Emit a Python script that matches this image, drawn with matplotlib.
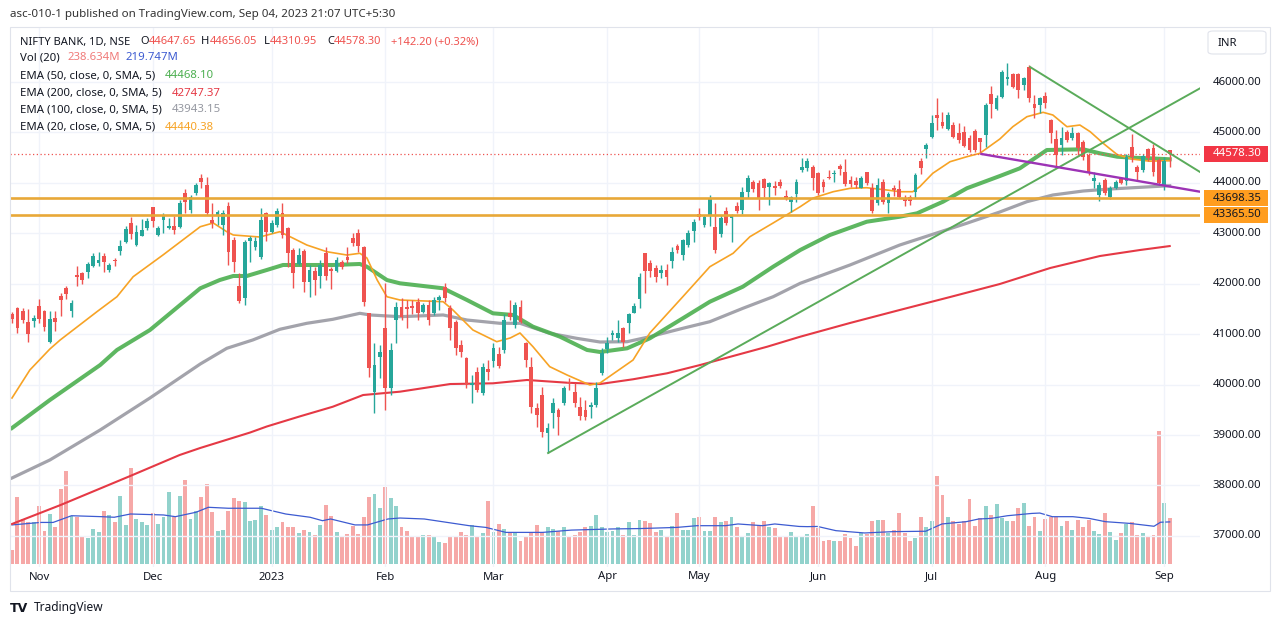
import numpy as np
import pandas as pd
import matplotlib
matplotlib.use("Agg")
import matplotlib.pyplot as plt
from matplotlib.patches import Rectangle, FancyBboxPatch
from matplotlib.transforms import blended_transform_factory

plt.rcParams['font.family'] = ['Noto Sans', 'DejaVu Sans']

# ---------------- data ----------------
holidays = ["2022-10-26", "2022-11-08", "2023-01-26", "2023-03-07", "2023-03-30",
            "2023-04-04", "2023-04-07", "2023-04-14", "2023-05-01", "2023-06-29", "2023-08-15"]

opens = [41401, 41526, 41466, 41236, 41268, 41559, 41466, 40851, 41327, 41763,
         41922, 41466, 42174, 42207, 42240, 42352, 42405, 42550, 42273, 42471,
         42656, 42834, 43211, 42769, 42953, 43100, 43516, 42967, 43264, 43100,
         43151, 43132, 43794, 43463, 43794, 44097, 43958, 43264, 43363, 43165,
         43542, 42868, 41956, 41712, 42854, 42735, 42537, 43397, 43032, 43165,
         43409, 43100, 42669, 42392, 42656, 42041, 42259, 42154, 42616, 42287,
         42259, 42438, 42525, 42913, 43000, 42723, 41414, 39860, 40542, 41117,
         39928, 41282, 41545, 41533, 41559, 41645, 41446, 41579, 41414, 41678,
         41930, 41513, 41248, 40786, 40522, 39993, 40257, 39828, 40304, 40476,
         40608, 40687, 41414, 41183, 41533, 40832, 40356, 39531, 39795, 39035,
         39444, 39497, 39630, 40059, 39860, 39563, 39497, 39551, 39596, 40224,
         40700, 40984, 40918, 41117, 41216, 41427, 41692, 42604, 42418, 42306,
         42220, 42273, 42457, 42749, 42570, 42769, 43052, 43383, 43165, 43344,
         43119, 42987, 43449, 43298, 43542, 43463, 43825, 44024, 43992, 44071,
         43925, 43938, 44024, 43740, 43627, 43780, 44256, 44289, 44321, 44190,
         44011, 44123, 44170, 44341, 44222, 44057, 44038, 43905, 44210, 43905,
         43595, 44024, 43595, 43905, 43879, 43681, 43727, 43826, 44434, 44672,
         44916, 45346, 45201, 45069, 45148, 44983, 45015, 44896, 45029, 44884,
         44950, 45756, 45465, 45709, 46060, 46153, 46153, 45941, 46304, 45558,
         45544, 45729, 45247, 44870, 44751, 45015, 44896, 44983, 44805, 44553,
         44038, 43760, 44057, 43726, 43892, 44103, 44038, 44718, 44321, 44256,
         44672, 44685, 44454, 43958, 44647.65]

highs = [41446, 41545, 41513, 41494, 41381, 41692, 41480, 41466, 41466, 41823,
         41956, 41678, 42352, 42240, 42438, 42616, 42636, 42604, 42406, 42517,
         42868, 43145, 43330, 43165, 43278, 43298, 43528, 43145, 43397, 43310,
         43344, 43661, 43873, 43760, 44004, 44176, 44123, 43595, 43463, 43463,
         43627, 42934, 42207, 42868, 42947, 42934, 43496, 43429, 43264, 43496,
         43595, 43132, 42703, 42703, 42683, 42372, 42338, 42471, 42723, 42338,
         42537, 42471, 42723, 43000, 43080, 42749, 41427, 40820, 40786, 42009,
         40820, 41645, 41712, 41678, 41678, 41712, 41612, 41678, 41732, 41777,
         42009, 41579, 41282, 40885, 40555, 40191, 40356, 40423, 40489, 40820,
         40753, 41401, 41678, 41645, 41678, 40851, 40555, 39630, 39960, 39233,
         39729, 39531, 39973, 40126, 40027, 39761, 39696, 39662, 40059, 40720,
         40951, 41083, 41282, 41149, 41414, 41612, 42220, 42616, 42471, 42372,
         42372, 42392, 42723, 42788, 42881, 43066, 43278, 43496, 43363, 43760,
         43595, 43363, 43528, 43383, 43627, 43925, 44157, 44057, 44057, 44091,
         44024, 44043, 44071, 43859, 43740, 44071, 44487, 44487, 44355, 44222,
         44077, 44256, 44256, 44368, 44474, 44143, 44123, 44143, 44222, 43992,
         44103, 44077, 43826, 43958, 44057, 43760, 43760, 44190, 44487, 44785,
         45346, 45677, 45412, 45412, 45213, 45181, 45134, 44949, 45069, 44884,
         45578, 45927, 45742, 46238, 46371, 46173, 46173, 46105, 46337, 45742,
         45709, 45808, 45267, 45052, 45114, 45052, 45114, 45015, 44850, 44586,
         44222, 44024, 44091, 43945, 44057, 44123, 44566, 44963, 44355, 44566,
         44685, 44765, 44487, 44520, 44656.05]

lows = [41217, 41030, 41217, 40851, 41149, 41217, 41069, 40831, 41069, 41361,
        41692, 41347, 41956, 41995, 42108, 42326, 42352, 42240, 42240, 42352,
        42570, 42802, 42882, 42749, 42947, 43066, 43132, 42947, 43013, 43080,
        42987, 43100, 43397, 43397, 43760, 43899, 43363, 43100, 43165, 42967,
        42372, 42240, 41613, 41579, 42438, 42669, 42485, 42854, 43000, 43132,
        42901, 42338, 41910, 42372, 41843, 41744, 41777, 41910, 42075, 41890,
        42240, 42287, 42405, 42749, 42636, 41559, 40157, 39444, 40126, 39497,
        39795, 40820, 41282, 41117, 41401, 41282, 41414, 41183, 41381, 41480,
        41645, 40885, 40588, 40542, 39927, 39630, 39860, 39795, 40092, 40356,
        40324, 40621, 41282, 41117, 41217, 40356, 39431, 39167, 38968, 38639,
        39134, 39002, 39596, 39894, 39563, 39299, 39299, 39333, 39563, 40191,
        40621, 40885, 40851, 40753, 41018, 41414, 41513, 41811, 42140, 42041,
        42108, 41975, 42306, 42604, 42471, 42735, 42834, 43264, 43119, 43145,
        42604, 42934, 43165, 42834, 43409, 43383, 43694, 43826, 43463, 43727,
        43562, 43760, 43893, 43661, 43429, 43627, 44222, 44236, 43859, 43760,
        43826, 44077, 44024, 44157, 43945, 43925, 43905, 43893, 43958, 43397,
        43562, 43575, 43397, 43747, 43694, 43548, 43562, 43707, 44169, 44487,
        44896, 45049, 45082, 45049, 44883, 44784, 44718, 44619, 44619, 44606,
        44718, 45280, 45445, 45677, 45940, 45875, 45677, 45842, 45610, 45280,
        45379, 45479, 44784, 44321, 44553, 44804, 44850, 44553, 44454, 44157,
        43892, 43641, 43760, 43681, 43872, 43972, 43958, 44420, 44038, 44222,
        44434, 44143, 43958, 43859, 44310.95]

closes = [41296, 41129, 41282, 40998, 41327, 41296, 41149, 41296, 41236, 41678,
          41791, 41625, 42140, 42075, 42392, 42550, 42471, 42438, 42372, 42451,
          42749, 43086, 42987, 43032, 43066, 43244, 43250, 43112, 43363, 43145,
          43066, 43595, 43627, 43726, 43958, 44018, 43409, 43211, 43429, 43409,
          42636, 42438, 41664, 42834, 42901, 42854, 43264, 43032, 43211, 43449,
          42967, 42616, 42207, 42570, 42041, 42273, 42075, 42372, 42154, 42259,
          42471, 42326, 42471, 42814, 42749, 41645, 40324, 40389, 40653, 39928,
          40687, 41545, 41347, 41494, 41513, 41414, 41579, 41282, 41678, 41732,
          41712, 41117, 40720, 40654, 39993, 40027, 39894, 40356, 40257, 40720,
          40370, 41282, 41347, 41579, 41248, 40489, 39563, 39398, 39068, 39134,
          39642, 39365, 39927, 40027, 39630, 39378, 39365, 39596, 39927, 40621,
          40832, 41030, 41030, 40851, 41401, 41559, 42140, 42259, 42259, 42140,
          42273, 42140, 42636, 42669, 42868, 43013, 43231, 43317, 43317, 43694,
          42669, 43298, 43199, 43344, 43449, 43825, 44091, 43873, 43694, 43893,
          43992, 43893, 43938, 43674, 43714, 44024, 44321, 44434, 44103, 43794,
          43925, 44103, 44190, 44276, 43972, 43972, 43958, 44103, 43992, 43443,
          43958, 43627, 43774, 43859, 43727, 43641, 43641, 44157, 44301, 44751,
          45181, 45292, 45134, 45346, 44916, 44850, 44737, 44652, 44652, 44805,
          45544, 45558, 45689, 46205, 46106, 45907, 45842, 46074, 45677, 45479,
          45677, 45578, 44983, 44553, 44884, 44850, 44983, 44685, 44519, 44190,
          44103, 43958, 43793, 43892, 44024, 43992, 44519, 44519, 44222, 44539,
          44487, 44222, 43992, 44436, 44578.30]

volumes_m = [73, 348, 235, 218, 218, 305, 174, 261, 191, 392,
             487, 252, 244, 143, 136, 183, 165, 278, 256, 218,
             357, 205, 499, 235, 221, 205, 266, 209, 244, 378,
             244, 353, 440, 235, 278, 348, 418, 273, 174, 179,
             278, 343, 331, 322, 226, 231, 305, 258, 179, 195,
             218, 191, 195, 162, 179, 169, 153, 205, 310, 252,
             169, 143, 157, 200, 158, 244, 348, 367, 291, 400,
             346, 305, 195, 171, 139, 143, 153, 151, 143, 117,
             110, 139, 144, 165, 153, 204, 143, 162, 327, 169,
             209, 183, 162, 162, 122, 143, 169, 205, 169, 195,
             183, 171, 191, 144, 151, 165, 195, 200, 258, 191,
             169, 174, 195, 153, 218, 153, 230,
             226, 212, 169, 179, 144, 197, 264, 179, 179, 238,
             244, 174, 174, 247, 221, 226, 247, 191, 143, 160,
             221, 204, 226, 191, 186, 144, 148, 169, 144, 148,
             157, 305, 186, 122, 125, 122, 122, 157, 134, 92,
             162, 157, 226, 231, 231, 162, 179, 264, 160, 122,
             137, 244, 191, 226, 458, 360, 244, 226, 209, 226,
             339, 197, 238, 305, 256, 313, 238, 226, 226, 291,
             320, 197, 247, 174, 235, 247, 247, 200, 226, 179,
             231, 195, 231, 174, 157, 264, 169, 127, 160, 209,
             221, 153, 162, 143, 153, 694, 318, 238.634]

vma_idx = [0, 5.3, 7.6, 11, 16.6, 18.9, 21.9, 28, 30.2, 34, 36.3, 40, 46.1, 50.6, 55.1, 57.4,
           58.9, 63.4, 65.7, 69.5, 71.7, 76.2, 84.5, 87.6, 91.3, 98.1, 103.4, 111, 116.1, 122.9,
           126.6, 131.9, 134.2, 138.7, 141, 145.5, 147, 148.9, 152.3, 157.6, 162.9, 168.9, 171.9,
           176.4, 178.7, 181, 184, 188.5, 190, 192.3, 196.1, 199.1, 202.1, 206.6, 211.1, 212.3, 214]
vma_val = [204, 217, 217, 252, 247, 244, 261, 256, 247, 270, 296, 291, 291, 261, 244, 226,
           235, 204, 204, 235, 240, 235, 200, 191, 165, 165, 177, 183, 185, 191,
           200, 200, 209, 200, 209, 196, 195, 196, 174, 162, 169, 171, 209,
           221, 235, 238, 252, 264, 266, 247, 247, 238, 221, 212, 197, 218, 219.747]

ema20_idx = [0, 3.3, 7, 8.9, 15.7, 19.4, 22.4, 27.9, 34.8, 37.2, 39.7, 40.9, 45.8, 49.5, 51.9,
             54.5, 58.2, 61.9, 64.3, 65.6, 67.5, 69.3, 71.7, 79.7, 81.5, 85.2, 89.6, 92.1, 93.9,
             96.3, 99.4, 102.6, 106.8, 108.7, 114.8, 117.9, 124, 129, 133.3, 136.4, 140.7, 145.7,
             148.1, 151.8, 154.9, 158, 161.7, 164.1, 166.5, 167.8, 170.2, 173.4, 176.5, 178.9,
             182.6, 185, 187.6, 190.6, 192.4, 195, 197.4, 199.3, 201.7, 204.3, 207.2, 210.3, 214]
ema20_val = [39735, 40290, 40706, 40885, 41446, 41743, 42140, 42570, 43131, 43205, 43032, 42967,
             42927, 43032, 42907, 42768, 42635, 42570, 42604, 42511, 42074, 41743, 41678, 41644,
             41480, 41083, 40851, 40925, 41024, 40752, 40356, 40191, 39993, 40032, 40488, 41024,
             41743, 42338, 42604, 42933, 43205, 43528, 43700, 43825, 43892, 43904, 43859, 43825,
             43825, 43924, 44190, 44420, 44519, 44586, 44870, 45114, 45312, 45399, 45346, 45114,
             45147, 45015, 44785, 44560, 44470, 44430, 44440.38]

ema50_idx = [0, 7, 16.3, 19.4, 25.5, 34.8, 38.4, 40.9, 43.4, 47.1, 50.1, 53.2, 59.3, 64.3, 65.6,
             69.3, 71.7, 79.7, 84.1, 88.9, 92.6, 96.3, 101.3, 106.3, 108.7, 113.7, 117.9, 124, 129,
             135.1, 140.7, 145.7, 151.2, 158, 164.1, 167.3, 172.1, 176.5, 182.6, 186.3, 191.3, 198,
             201.1, 204.3, 207.2, 210.3, 214]
ema50_val = [39140, 39695, 40389, 40687, 41083, 41910, 42074, 42154, 42154, 42273, 42372, 42372,
             42372, 42392, 42338, 42074, 42009, 41910, 41678, 41414, 41381, 41149, 40950, 40687,
             40647, 40720, 40918, 41315, 41644, 41942, 42338, 42669, 42967, 43230, 43329, 43397,
             43627, 43893, 44136, 44289, 44652, 44666, 44586, 44519, 44499, 44487, 44468.10]

ema100_idx = [0, 7, 16.3, 25.5, 34.8, 39.7, 44.5, 49.5, 54.5, 59.3, 64.3, 66.2, 71.7, 79.7, 84.1,
              90.2, 93.9, 99.4, 104.4, 108.7, 113.7, 117.9, 124, 129, 135.1, 140.7, 145.7, 154.9,
              164.1, 176.5, 182.6, 187.6, 192.4, 198, 203, 207.2, 211.6, 214]
ema100_val = [38149, 38506, 39101, 39735, 40409, 40720, 40885, 41097, 41216, 41295, 41414, 41381,
              41347, 41381, 41281, 41216, 41216, 41018, 40918, 40845, 40851, 40950, 41117, 41248,
              41513, 41743, 42009, 42372, 42768, 43200, 43423, 43627, 43760, 43839, 43879, 43904,
              43930, 43943.15]

ema200_idx = [0, 9, 22, 31, 34.8, 44, 47.1, 53.2, 59.3, 64.9, 71.7, 81, 88.9, 95.2, 102.6, 108.7,
              114.8, 121.1, 127.2, 133.3, 139.6, 145.7, 154.9, 164.1, 173.4, 182.6, 191.9, 201.1,
              208.5, 214]
ema200_val = [37237, 37614, 38195, 38605, 38744, 39050, 39170, 39370, 39562, 39794, 39860, 40012,
              40026, 40092, 40038, 40012, 40106, 40225, 40389, 40568, 40752, 40950, 41222, 41480,
              41737, 41995, 42312, 42550, 42669, 42747.37]

h_levels = [43698.35, 43365.50]
last_price = 44578.30
trend_up = [(99.1, 38644), (219.6, 45875)]
trend_down = [(188.2, 46297), (219.6, 44216)]
trend_purple = [(179.2, 44573), (219.6, 43825)]
price_ticks = [37000, 38000, 39000, 40000, 41000, 42000, 43000, 44000, 45000, 46000]

# ---------------- layout ----------------
W, H = 1281, 627
fig = plt.figure(figsize=(W / 100, H / 100), dpi=100)
fig.patch.set_facecolor('white')

def fx(px):
    return px / W

def fy(py):
    return 1 - py / H

L_, R_, T_, B_ = 10, 1200, 28, 567
rect = [fx(L_), fy(B_), fx(R_) - fx(L_), fy(T_) - fy(B_)]
axv = fig.add_axes(rect)
ax = fig.add_axes(rect)
ax.patch.set_alpha(0)
for a in (ax, axv):
    for s in a.spines.values():
        s.set_visible(False)
    a.set_xticks([])
    a.set_yticks([])

dates = pd.bdate_range("2022-10-24", "2023-09-04")
dates = dates[~dates.isin(pd.to_datetime(holidays))]
n = len(dates)
x = np.arange(n)
o = np.array(opens); hi = np.array(highs); lo = np.array(lows); c = np.array(closes)
vol = np.array(volumes_m)

xmin, xmax = -0.37, 219.6
ymin, ymax = 36384, 47071
ax.set_xlim(xmin, xmax); axv.set_xlim(xmin, xmax)
ax.set_ylim(ymin, ymax)
vpp = 5.22
axv.set_ylim(-3 * vpp, (B_ - T_ - 3) * vpp)

UP, DN = '#26a69a', '#ef5350'
up_mask = c >= o
col = np.where(up_mask, UP, DN)

# grid
grid_c = '#f0f3fa'
for p in price_ticks:
    ax.axhline(p, color=grid_c, lw=1, zorder=0)
months = dates.to_period('M')
first_idx = [i for i in range(n) if i == 0 or months[i] != months[i - 1]][1:]
month_labels = []
for i in first_idx:
    d = dates[i]
    month_labels.append('2023' if (d.month == 1) else d.strftime('%b'))
for i in first_idx:
    ax.axvline(i, color=grid_c, lw=1, zorder=0)

# volume
vcol = [(38/255, 166/255, 154/255, 0.5) if u else (239/255, 83/255, 80/255, 0.5) for u in up_mask]
axv.bar(x, vol, width=0.72, color=vcol, zorder=1)
axv.plot(vma_idx, vma_val, color='#3d5bd1', lw=0.9, zorder=2)

# EMAs
ax.plot(ema200_idx, ema200_val, color='#e53945', lw=1.5, zorder=3)
ax.plot(ema100_idx, ema100_val, color='#a3a3ab', lw=2.3, zorder=3)
ax.plot(ema50_idx, ema50_val, color='#4caf50', lw=2.9, zorder=3, alpha=0.9)
ax.plot(ema20_idx, ema20_val, color='#f7a325', lw=1.2, zorder=3)

# candles
ax.vlines(x, lo, hi, colors=col, lw=1.0, zorder=4)
body_b = np.minimum(o, c)
body_h = np.maximum(np.abs(c - o), 18)
ax.bar(x, body_h, bottom=body_b, width=0.7, color=col, zorder=5)

# horizontal levels & trend lines
for lv in h_levels:
    ax.axhline(lv, color='#e8a838', lw=1.9, zorder=6)
ax.axhline(last_price, color='#ef5350', lw=0.9, ls=(0, (1, 2)), zorder=6)
ax.plot(*zip(*trend_up), color='#5aab5a', lw=1.4, zorder=7)
ax.plot(*zip(*trend_down), color='#5aab5a', lw=1.4, zorder=7)
ax.plot(*zip(*trend_purple), color='#9c33b5', lw=1.7, zorder=7)

# ---------------- texts ----------------
TXT = '#131722'
FS = 8.2
tr_y = blended_transform_factory(fig.transFigure, ax.transData)
tr_x = blended_transform_factory(ax.transData, fig.transFigure)

for p in price_ticks:
    ax.text(fx(1237), p, f"{p:.2f}", transform=tr_y, ha='center', va='center',
            fontsize=FS, color=TXT, clip_on=False)

ppx = (ymax - ymin) / (B_ - T_)
def price_box(price, fc, tc, label):
    r = Rectangle((fx(1204), price - 8.2 * ppx), fx(1268) - fx(1204), 16.4 * ppx,
                  transform=tr_y, facecolor=fc, edgecolor='none', clip_on=False, zorder=10)
    ax.add_patch(r)
    ax.text(fx(1237), price, label, transform=tr_y, ha='center', va='center',
            fontsize=FS, color=tc, clip_on=False, zorder=11)

price_box(last_price, '#f23645', 'white', f"{last_price:.2f}")
price_box(h_levels[0], '#ff9d1f', TXT, f"{h_levels[0]:.2f}")
price_box(h_levels[1], '#ff9d1f', TXT, f"{h_levels[1]:.2f}")

for i, lab in zip(first_idx, month_labels):
    ax.text(i, fy(577), lab, transform=tr_x, ha='center', va='center', fontsize=FS,
            color=TXT, clip_on=False)

# INR box
fig.add_artist(FancyBboxPatch((fx(1208), fy(54)), fx(58), 23 / H,
                              boxstyle='round,pad=0,rounding_size=0.004',
                              transform=fig.transFigure, facecolor='white',
                              edgecolor='#e0e3eb', lw=0.8))
fig.text(fx(1218), fy(43), 'INR', ha='left', va='center', fontsize=FS, color=TXT)

# frame
fig.add_artist(Rectangle((fx(10), fy(591)), fx(1260), 564 / H, transform=fig.transFigure,
                         fill=False, edgecolor='#e0e3eb', lw=0.8))

# header
fig.text(fx(10), fy(15), 'asc-010-1 published on TradingView.com, Sep 04, 2023 21:07 UTC+5:30',
         ha='left', va='center', fontsize=8.3, color='#333333')

RED = '#ef5350'
renderer = fig.canvas.get_renderer()

def seq_text(x0, yy, parts, fs):
    """draw parts one after another, starting at pixel x0"""
    xc = x0
    for s, cc in parts:
        t = fig.text(fx(xc), fy(yy), s, ha='left', va='center', fontsize=fs, color=cc)
        bb = t.get_window_extent(renderer=renderer)
        xc += bb.width

FS_1 = 8.0
row1 = [(20, [('NIFTY BANK, 1D, NSE', TXT)]),
        (140, [('O', TXT), ('44647.65', RED)]),
        (201, [('H', TXT), ('44656.05', RED)]),
        (264, [('L', TXT), ('44310.95', RED)]),
        (327, [('C', TXT), ('44578.30', RED)]),
        (391, [('+142.20 (+0.32%)', RED)])]
for x0, parts in row1:
    seq_text(x0, 42, parts, FS_1)

FS_L = 8.2
legend = [
    (58, [(20, 'Vol (20)', TXT), (67, '238.634M', '#f07b79'), (125, '219.747M', '#3d5bd1')]),
    (76, [(20, 'EMA (50, close, 0, SMA, 5)', TXT), (165, '44468.10', '#4caf50')]),
    (93, [(20, 'EMA (200, close, 0, SMA, 5)', TXT), (172, '42747.37', '#e53945')]),
    (110, [(20, 'EMA (100, close, 0, SMA, 5)', TXT), (172, '43943.15', '#9598a1')]),
    (127, [(20, 'EMA (20, close, 0, SMA, 5)', TXT), (165, '44440.38', '#f7a325')]),
]
for yy, segs in legend:
    for xx, s, cc in segs:
        fig.text(fx(xx), fy(yy), s, ha='left', va='center', fontsize=FS_L, color=cc)

# footer logo
fig.text(fx(10), fy(608), 'TV', ha='left', va='center', fontsize=9, color=TXT,
         fontweight='bold', family='DejaVu Sans')
fig.text(fx(34), fy(608), 'TradingView', ha='left', va='center', fontsize=8.6, color=TXT)

fig.savefig('out.png', dpi=100, facecolor='white')
